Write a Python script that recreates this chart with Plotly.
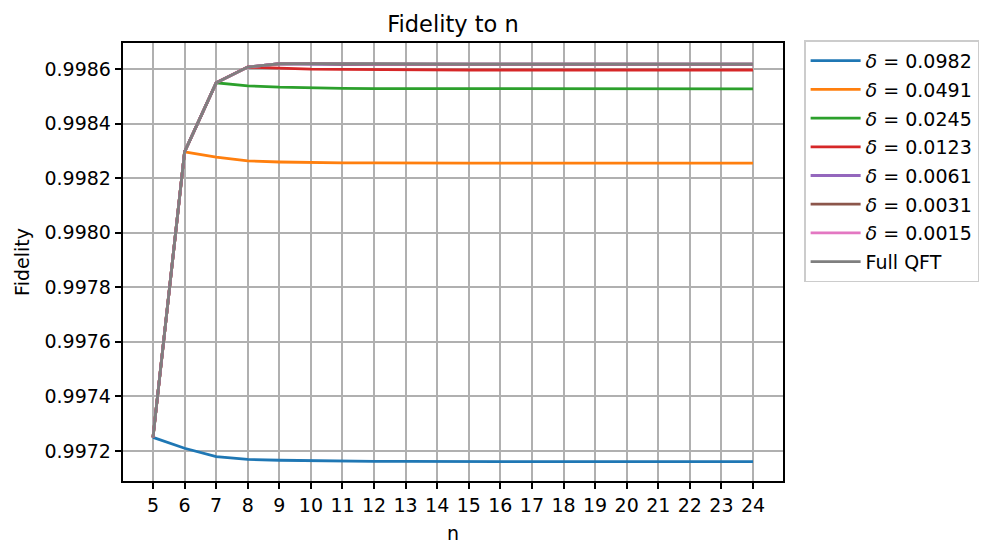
import plotly.graph_objects as go

n_values = list(range(5, 25))

full_qft = [0.99725, 0.998296, 0.998549, 0.998607, 0.998619, 0.99862, 0.998619, 0.998619, 0.998618, 0.998618,
            0.998618, 0.998618, 0.998618, 0.998618, 0.998618, 0.998618, 0.998618, 0.998618, 0.998618, 0.998618]
d_0982 = [0.99725, 0.99721, 0.997179, 0.997169, 0.997166, 0.997164, 0.997163, 0.997162, 0.997162, 0.997161,
          0.997161, 0.997161, 0.997161, 0.997161, 0.997161, 0.997161, 0.997161, 0.997161, 0.997161, 0.997161]
d_0491 = [0.99725, 0.998296, 0.998277, 0.998263, 0.998259, 0.998257, 0.998256, 0.998256, 0.998255, 0.998255,
          0.998255, 0.998255, 0.998255, 0.998255, 0.998255, 0.998255, 0.998255, 0.998255, 0.998255, 0.998255]
d_0245 = [0.99725, 0.998296, 0.998549, 0.998538, 0.998533, 0.99853, 0.998529, 0.998528, 0.998528, 0.998527,
          0.998527, 0.998527, 0.998527, 0.998527, 0.998527, 0.998527, 0.998527, 0.998527, 0.998527, 0.998527]
d_0123 = [0.99725, 0.998296, 0.998549, 0.998607, 0.998603, 0.998599, 0.998598, 0.998597, 0.998597, 0.998596,
          0.998596, 0.998596, 0.998596, 0.998596, 0.998596, 0.998596, 0.998596, 0.998596, 0.998596, 0.998596]
d_0061 = [0.99725, 0.998296, 0.998549, 0.998607, 0.998619, 0.998617, 0.998616, 0.998616, 0.998616, 0.998616,
          0.998616, 0.998616, 0.998616, 0.998616, 0.998616, 0.998616, 0.998616, 0.998616, 0.998616, 0.998616]
d_0031 = [0.99725, 0.998296, 0.998549, 0.998607, 0.998619, 0.99862, 0.998618, 0.998617, 0.998617, 0.998617,
          0.998617, 0.998617, 0.998617, 0.998617, 0.998617, 0.998617, 0.998617, 0.998617, 0.998617, 0.998617]
d_0015 = [0.99725, 0.998296, 0.998549, 0.998607, 0.998619, 0.99862, 0.998619, 0.998618, 0.998618, 0.998618,
          0.998618, 0.998618, 0.998618, 0.998618, 0.998618, 0.998618, 0.998618, 0.998618, 0.998618, 0.998618]

series_names = ["<i>δ</i> = 0.0982", "<i>δ</i> = 0.0491", "<i>δ</i> = 0.0245", "<i>δ</i> = 0.0123",
                "<i>δ</i> = 0.0061", "<i>δ</i> = 0.0031", "<i>δ</i> = 0.0015", "Full QFT"]
series_values = [d_0982, d_0491, d_0245, d_0123, d_0061, d_0031, d_0015, full_qft]
colors = ["#1f77b4", "#ff7f0e", "#2ca02c", "#d62728", "#9467bd", "#8c564b", "#e377c2", "#7f7f7f"]

y_ticks = [0.9972, 0.9974, 0.9976, 0.9978, 0.9980, 0.9982, 0.9984, 0.9986]
y_tick_labels = ["0.9972", "0.9974", "0.9976", "0.9978", "0.9980", "0.9982", "0.9984", "0.9986"]

fig = go.Figure()
for i, (name, vals, col) in enumerate(zip(series_names, series_values, colors)):
    fig.add_trace(go.Scatter(x=n_values, y=vals, mode="lines", name=name,
                             legendgroup=f"g{i}",
                             line=dict(color=col, width=2.8)))

W, H = 980, 540
font_family = "DejaVu Sans"
fig.update_layout(
    width=W, height=H,
    paper_bgcolor="white", plot_bgcolor="white",
    margin=dict(l=115, r=205, t=35, b=67, autoexpand=False),
    font=dict(family=font_family, size=19, color="black"),
    title=dict(text="Fidelity to n", x=445 / W, xanchor="center", xref="container",
               y=1 - 16 / H, yanchor="middle", yref="container", font=dict(size=22.5)),
    showlegend=True,
    legend=dict(x=1.032, y=1.006, xanchor="left", yanchor="top",
                bordercolor="#cccccc", borderwidth=1.5, bgcolor="white",
                font=dict(size=19), tracegroupgap=1, itemwidth=50),
)
fig.update_xaxes(range=[4.05, 24.95], tickmode="array", tickvals=n_values,
                 ticktext=[str(v) for v in n_values],
                 showgrid=True, gridcolor="#b0b0b0", gridwidth=1.5,
                 showline=True, linecolor="black", linewidth=1.5, mirror=True,
                 ticks="outside", ticklen=6.5, tickwidth=1.5, tickcolor="black",
                 zeroline=False, automargin=False,
                 title=dict(text="n", font=dict(size=19), standoff=12))
fig.update_yaxes(range=[0.99709, 0.998695], tickmode="array", tickvals=y_ticks,
                 ticktext=y_tick_labels,
                 showgrid=True, gridcolor="#b0b0b0", gridwidth=1.5,
                 showline=True, linecolor="black", linewidth=1.5, mirror=True,
                 ticks="outside", ticklen=6.5, tickwidth=1.5, tickcolor="black",
                 zeroline=False, automargin=False,
                 title=dict(text="Fidelity", font=dict(size=19), standoff=10))

fig.write_html("out.html")
